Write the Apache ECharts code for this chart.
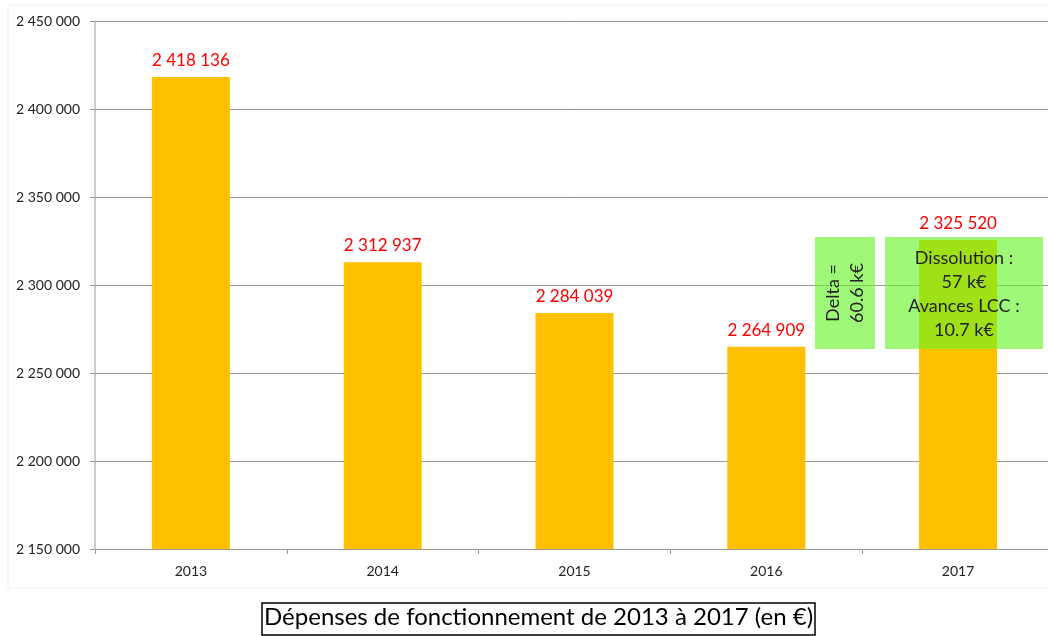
<!DOCTYPE html>
<html>
<head>
<meta charset="utf-8">
<script src="https://cdn.jsdelivr.net/npm/echarts@6/dist/echarts.min.js"></script>
<style>
  html, body { margin: 0; padding: 0; background: #fff; overflow: hidden; }
  #chart { width: 1060px; height: 636px; }
</style>
</head>
<body>
<div id="chart"></div>
<script>
  // années et dépenses (en €)
  var years = ['2013', '2014', '2015', '2016', '2017'];
  var depenses = [2418136, 2312937, 2284039, 2264909, 2325520];
  var deltaText = ['Delta =', '60.6 k€'];
  var detailText = ['Dissolution :', '57 k€', 'Avances LCC :', '10.7 k€'];

  function fmt(v) {
    return String(v).replace(/\B(?=(\d{3})+(?!\d))/g, ' ');
  }

  // le graphique dépasse un peu à droite, comme l'original (coupé par la fenêtre)
  var myChart = echarts.init(document.getElementById('chart'));
  var option = {
    animation: false,
    textStyle: { fontFamily: 'Lato' },
    title: {
      text: 'Dépenses de fonctionnement de 2013 à 2017 (en €)',
      left: 262,
      top: 603,
      padding: [2, 2, 6, 2],
      borderColor: '#000',
      borderWidth: 1.5,
      textStyle: { fontFamily: 'Lato', fontSize: 24, fontWeight: 'normal', color: '#000' }
    },
    grid: { left: 95, top: 21, right: 6, bottom: 87 },
    xAxis: {
      type: 'category',
      data: years,
      axisLine: { lineStyle: { color: '#999', width: 1 } },
      axisTick: { show: true, length: 5, lineStyle: { color: '#999' } },
      axisLabel: { color: '#222', fontSize: 14, margin: 15 }
    },
    yAxis: {
      type: 'value',
      min: 2150000,
      max: 2450000,
      interval: 50000,
      axisLine: { show: true, lineStyle: { color: '#bbb', width: 1.5 } },
      axisTick: { show: true, length: 5, lineStyle: { color: '#999' } },
      axisLabel: { color: '#222', fontSize: 14, margin: 15, formatter: fmt },
      splitLine: { lineStyle: { color: '#999', width: 1 } }
    },
    series: [{
      type: 'bar',
      data: depenses,
      barWidth: 78,
      itemStyle: { color: '#FFC000' },
      label: {
        show: true,
        position: 'top',
        distance: 8,
        color: '#FF0000',
        fontSize: 17,
        fontFamily: 'Lato',
        formatter: function (p) { return fmt(p.value); }
      }
    }],
    graphic: [
      {
        type: 'rect',
        shape: { x: 8, y: 5, width: 1060, height: 583 },
        style: { fill: 'none', stroke: '#eee', lineWidth: 1 },
        silent: true
      },
      {
        type: 'rect',
        z: 100,
        shape: { x: 815, y: 237, width: 60, height: 112 },
        style: { fill: 'rgba(100,243,37,0.62)' }
      },
      {
        type: 'text',
        z: 101,
        x: 845,
        y: 293,
        rotation: Math.PI / 2,
        style: {
          text: deltaText.join('\n'),
          fill: '#222',
          font: '18px Lato',
          align: 'center',
          verticalAlign: 'middle',
          lineHeight: 24
        }
      },
      {
        type: 'rect',
        z: 100,
        shape: { x: 885, y: 237, width: 158, height: 112 },
        style: { fill: 'rgba(100,243,37,0.62)' }
      },
      {
        type: 'text',
        z: 101,
        x: 964,
        y: 294,
        style: {
          text: detailText.join('\n'),
          fill: '#222',
          font: '18px Lato',
          align: 'center',
          verticalAlign: 'middle',
          lineHeight: 24
        }
      }
    ]
  };
  myChart.setOption(option);
</script>
</body>
</html>
